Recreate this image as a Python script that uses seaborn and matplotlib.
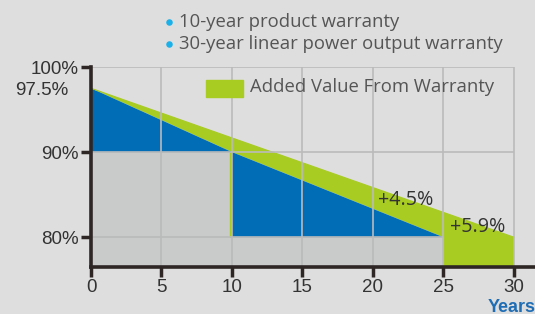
import numpy as np
import pandas as pd
import seaborn as sns
import matplotlib.pyplot as plt
from matplotlib.patches import Rectangle

# warranty curves (year, % of nominal power)
linear_years = [0, 30]
linear_output = [97.5, 80.0]
step_years = [0, 10, 25]
step_output = [97.5, 90.0, 80.0]
floor_years = [0, 10, 10, 25]
floor_output = [90.0, 90.0, 80.0, 80.0]

x_ticks = [0, 5, 10, 15, 20, 25, 30]
y_ticks = [80, 90, 97.5, 100]
y_labels = ["80%", "90%", "97.5%", "100%"]

gain_labels = ["+4.5%", "+5.9%"]
gain_x = [22.3, 27.4]
gain_y = [84.4, 81.2]

bullets = ["10-year product warranty", "30-year linear power output warranty"]
area_label = "Added Value From Warranty"

BG = "#dddedd"
GRAY = "#c9caca"
BLUE = "#006db6"
GREEN = "#a9cc22"
GRID = "#b9baba"
DARK = "#2d2625"

sns.set_theme(style="white", rc={"figure.facecolor": BG, "axes.facecolor": BG})
narrow = ["Liberation Sans", "DejaVu Sans"]
light = ["Open Sans", "DejaVu Sans"]

fig = plt.figure(figsize=(5.35, 3.14), dpi=100)
ax = fig.add_axes([91 / 535, 47 / 314, 444 / 535, 200 / 314])
ymin = 76.5

# gray base under the step warranty
gx = [0] + floor_years + [25, 0]
gy = [ymin] + floor_output + [ymin, ymin]
ax.fill(gx, gy, color=GRAY, lw=0, zorder=1)

# green band: linear line vs step line, plus block 25-30
green_x = linear_years + [30, 25] + step_years[::-1]
green_y = linear_output + [ymin, ymin] + step_output[::-1]
ax.fill(green_x, green_y, color=GREEN, lw=0, zorder=2)
ax.plot([9.93, 9.93], [80, 90], color=GREEN, lw=1.6, zorder=2)

# blue area: step line down to the floor
blue_x = step_years + floor_years[::-1]
blue_y = step_output + floor_output[::-1]
ax.fill(blue_x, blue_y, color=BLUE, lw=0, zorder=3)

curve = pd.DataFrame({"year": linear_years, "output": linear_output})
sns.lineplot(data=curve, x="year", y="output", color=GREEN, lw=0.8, ax=ax, zorder=3)

# grid
ax.vlines([5, 10, 15, 20, 25, 30], ymin, 100, color=GRID, lw=1.2, zorder=4)
ax.hlines([90, 100], 0, 30, color=GRID, lw=1.2, zorder=4)
ax.hlines([80], 0, 25, color=GRID, lw=1.2, zorder=4)

ax.set_xlim(0, 31.5)
ax.set_ylim(ymin, 100)
ax.set_xticks(x_ticks)
ax.set_xticklabels([str(v) for v in x_ticks], family=narrow, fontsize=13.5, color="#333333")
ax.set_yticks(y_ticks)
ax.set_yticklabels(y_labels, family=narrow, fontsize=13.5, color="#333333")
ax.set_xlabel("")
ax.set_ylabel("")
ax.tick_params(axis="both", direction="out", length=7, width=2.5, color=DARK, pad=2,
               bottom=True, left=True)
for t in ax.yaxis.get_major_ticks():
    if t.get_loc() == 97.5:
        t.tick1line.set_visible(False)
        t.set_pad(9)
for side in ["top", "right"]:
    ax.spines[side].set_visible(False)
for side in ["left", "bottom"]:
    ax.spines[side].set_color(DARK)
    ax.spines[side].set_linewidth(2.6)
    ax.spines[side].set_zorder(6)

for lab, gx_, gy_ in zip(gain_labels, gain_x, gain_y):
    ax.text(gx_, gy_, lab, ha="center", va="center", family=light, fontsize=14.2,
            color="#333333", zorder=7)

# header bullets
for i, txt in enumerate(bullets):
    yy = 1 - (22 + 22 * i) / 314
    fig.text(179 / 535, yy, txt, ha="left", va="center", family=light, fontsize=13.3,
             color="#555555")
    ax.scatter([169 / 535], [yy], s=22, color="#1ab0ea", transform=fig.transFigure,
               clip_on=False, zorder=8, linewidths=0)

fig.patches.append(Rectangle((206 / 535, 1 - 97 / 314), 37 / 535, 17 / 314,
                             transform=fig.transFigure, color=GREEN, zorder=8))
fig.text(250 / 535, 1 - 87 / 314, area_label, ha="left", va="center", family=light,
         fontsize=13.3, color="#555555", zorder=8)

fig.text(488 / 535, 1 - 307 / 314, "Years", ha="left", va="center",
         family=["Liberation Sans", "DejaVu Sans"], fontweight="bold", fontsize=13,
         color="#1f6db5")

fig.savefig("out.png", dpi=100, facecolor=BG)
